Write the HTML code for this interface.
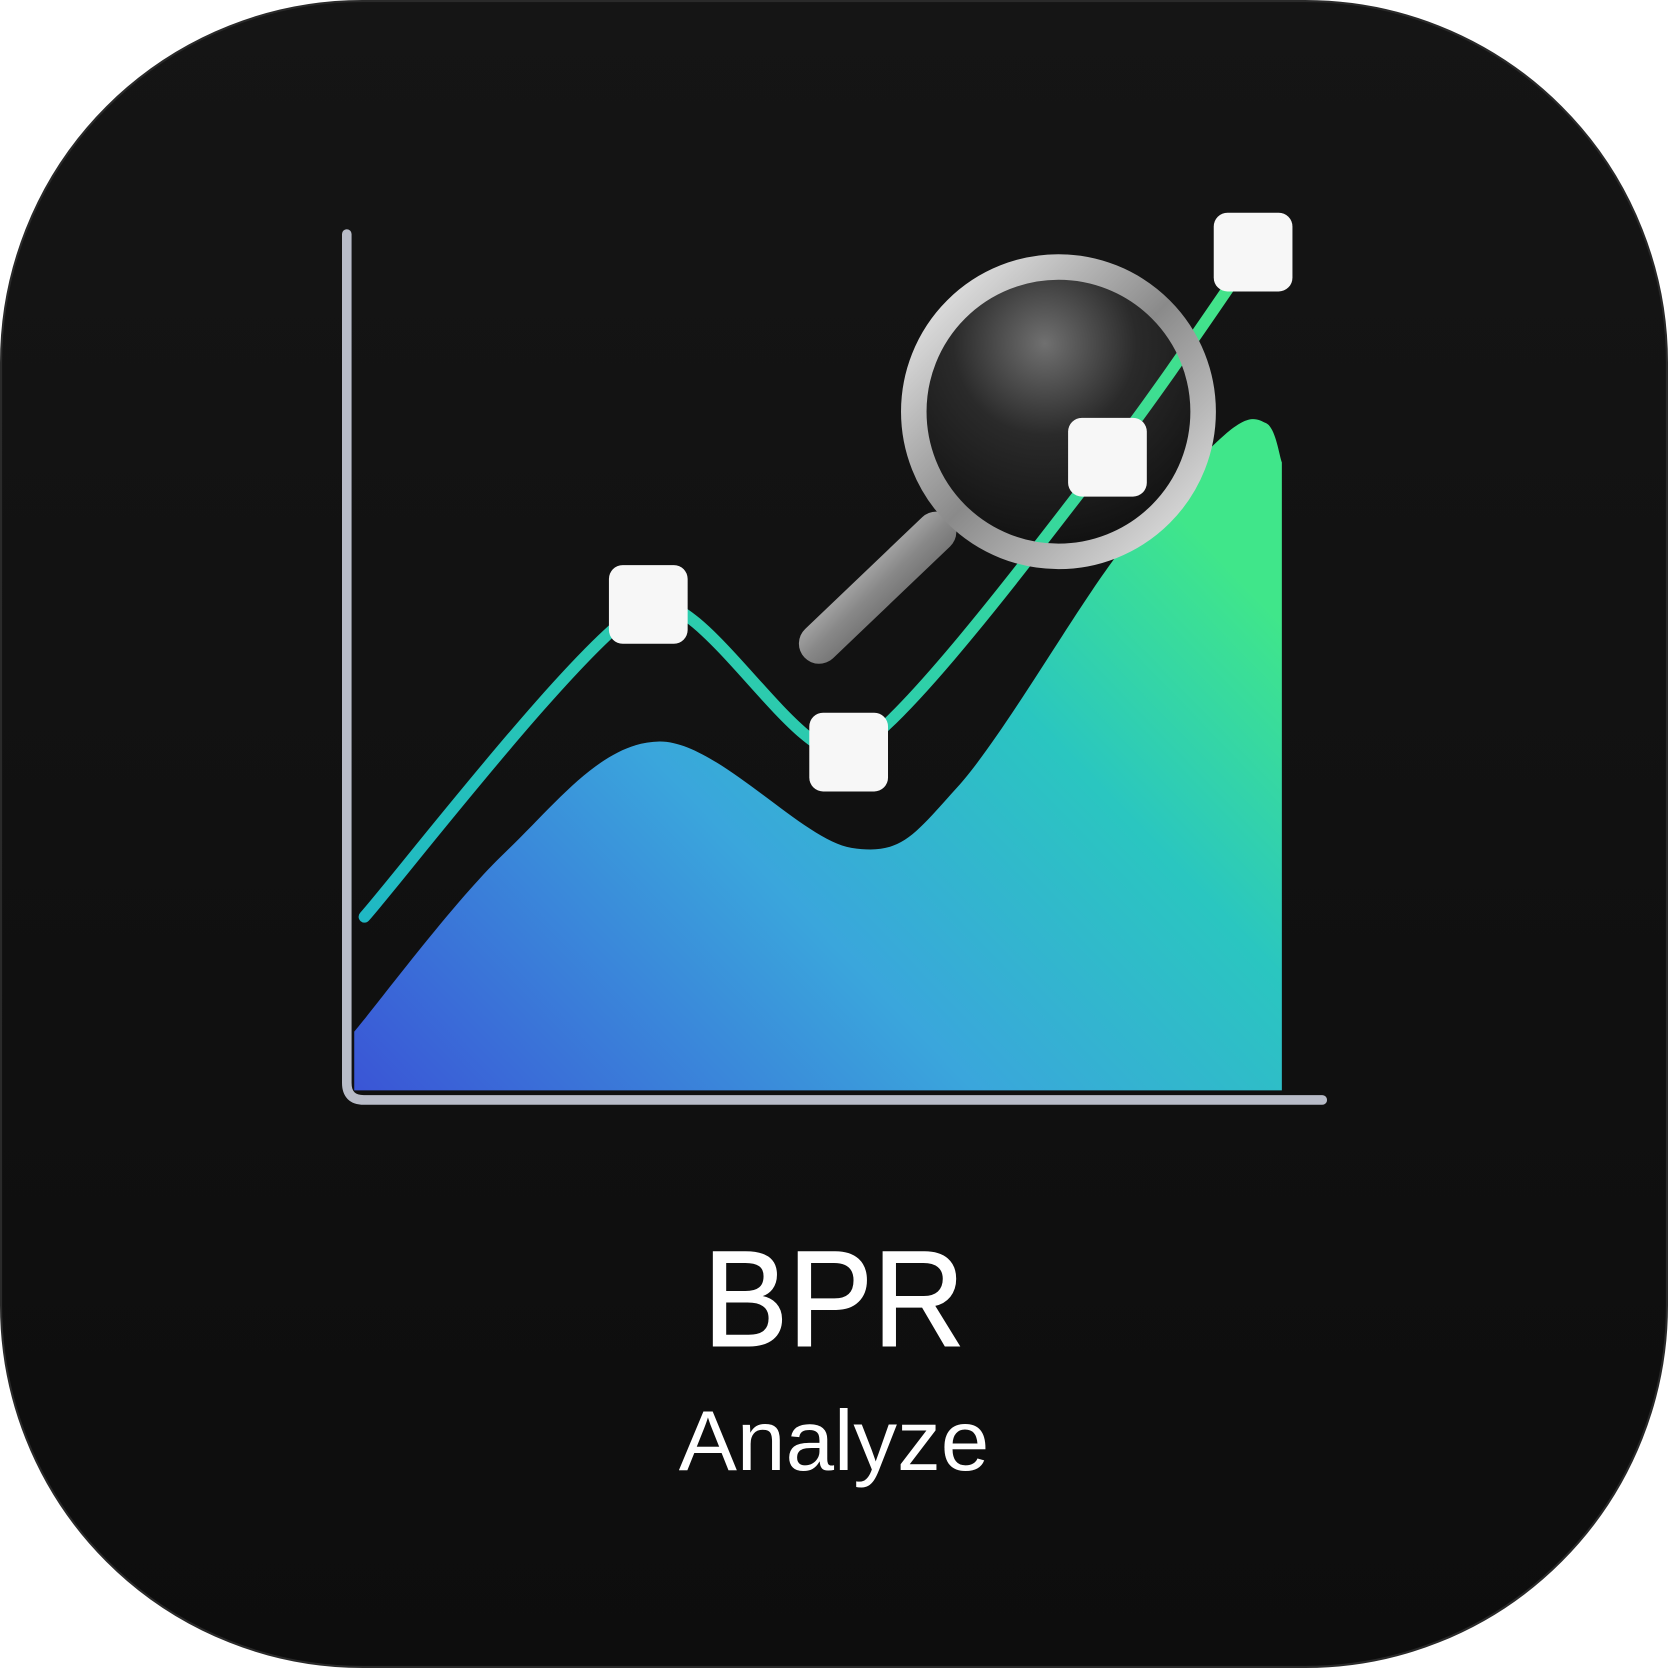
<!DOCTYPE html>
<html><head><meta charset="utf-8"><style>
html,body{margin:0;padding:0;background:#fff;width:1668px;height:1668px;overflow:hidden}
svg{display:block}
</style></head><body>
<svg id="s" width="1668" height="1668" viewBox="0 0 1568 1568" xmlns="http://www.w3.org/2000/svg">
<defs>
<linearGradient id="bg" x1="0" y1="0" x2="0" y2="1"><stop offset="0" stop-color="#151515"/><stop offset="1" stop-color="#0d0d0d"/></linearGradient>
<linearGradient id="area" x1="0" y1="1" x2="1" y2="0.3"><stop offset="0" stop-color="#3a55d6"/><stop offset="0.45" stop-color="#3aa6dc"/><stop offset="0.75" stop-color="#2ac6c0"/><stop offset="1" stop-color="#40e68a"/></linearGradient>
<linearGradient id="ln" x1="0" y1="1" x2="1" y2="0"><stop offset="0" stop-color="#1fb8c4"/><stop offset="0.5" stop-color="#2fd0a8"/><stop offset="1" stop-color="#45e486"/></linearGradient>
<linearGradient id="rim" x1="0" y1="0" x2="1" y2="1"><stop offset="0" stop-color="#f2f2f2"/><stop offset="0.5" stop-color="#8a8a8a"/><stop offset="1" stop-color="#e8e8e8"/></linearGradient>
<radialGradient id="lens" cx="0.45" cy="0.25" r="0.75"><stop offset="0" stop-color="#707070"/><stop offset="0.45" stop-color="#2a2a2a"/><stop offset="1" stop-color="#111"/></radialGradient>
<linearGradient id="hdl" x1="0" y1="0" x2="1" y2="1"><stop offset="0" stop-color="#eee"/><stop offset="0.5" stop-color="#888"/><stop offset="1" stop-color="#444"/></linearGradient>
</defs>
<rect x="1" y="1" width="1566" height="1566" rx="340" fill="url(#bg)" stroke="#2a2a2a" stroke-width="2"/>
<g id="chart"></g>
<text x="784" y="1265" text-anchor="middle" font-family="Liberation Sans, sans-serif" font-size="128" fill="#fff" stroke="#fff" stroke-width="1.5" textLength="246" lengthAdjust="spacingAndGlyphs">BPR</text>
<text x="784" y="1382" text-anchor="middle" font-family="Liberation Sans, sans-serif" font-size="80" fill="#fff" textLength="292" lengthAdjust="spacingAndGlyphs">Analyze</text>
</svg>
<script>
const areaX=[0,16.3,32.9,53.6,65,82.3,93.8,98.3,100];
const areaV=[6.9,28,41,28.5,35.6,63,77,78.4,73.8];
const lineX=[1.1,31.7,53.3,81.2,96.9];
const lineV=[20.4,57.1,39.75,74.4,98.5];
const markerIdx=[1,2,3,4];
const NS='http://www.w3.org/2000/svg';
const sx=u=>333+u*8.72, sy=v=>1025-v*8;
function smooth(xs,vs,k){const p=xs.map((x,i)=>[sx(x),sy(vs[i])]);let d='M'+p[0];
for(let i=0;i<p.length-1;i++){const a=p[i-1]||p[i],b=p[i],c=p[i+1],e=p[i+2]||c;
d+=' C'+(b[0]+(c[0]-a[0])/k)+','+(b[1]+(c[1]-a[1])/k)+' '+(c[0]-(e[0]-b[0])/k)+','+(c[1]-(e[1]-b[1])/k)+' '+c;}return d;}
const g=document.getElementById('chart');
function mk(t,at){const e=document.createElementNS(NS,t);for(const k in at)e.setAttribute(k,at[k]);g.appendChild(e);return e;}
let a=mk('path',{d:smooth(areaX,areaV,6)+' L'+sx(100)+','+sy(0)+' L'+sx(0)+','+sy(0)+' Z',fill:'url(#area)'});


let ax=mk('path',{d:'M326,220 L326,1018 Q326,1034 342,1034 L1243,1034',fill:'none',stroke:'#b8bcc8','stroke-width':9,'stroke-linecap':'round'});


let h=mk('path',{d:'M880,500 L770,605',stroke:'url(#hdl)','stroke-width':38,'stroke-linecap':'round'});


let lens=mk('circle',{cx:995,cy:387,r:128,fill:'url(#lens)'});


let l=mk('path',{d:smooth(lineX,lineV,9),fill:'none',stroke:'url(#ln)','stroke-width':11,'stroke-linecap':'round'});


let rim=mk('circle',{cx:995,cy:387,r:136,fill:'none',stroke:'url(#rim)','stroke-width':24});


markerIdx.forEach(i=>{const r=mk('rect',{x:sx(lineX[i])-37,y:sy(lineV[i])-37,width:74,height:74,rx:13,fill:'#f7f7f7'});

});
</script>
</body></html>
